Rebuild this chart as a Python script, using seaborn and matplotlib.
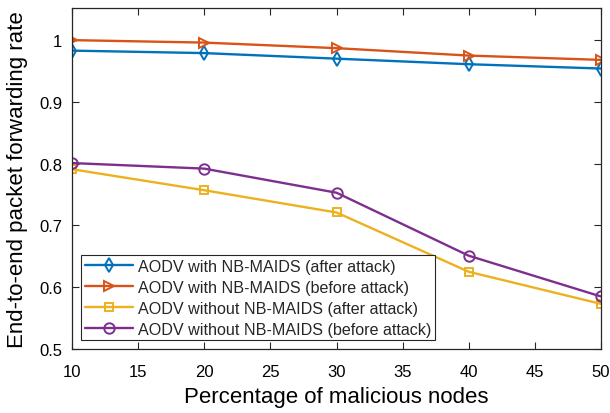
import matplotlib
matplotlib.use("Agg")
import matplotlib.pyplot as plt
import seaborn as sns
import pandas as pd

x_vals = [10, 20, 30, 40, 50]
with_after = [0.983, 0.979, 0.970, 0.961, 0.954]
with_before = [1.000, 0.996, 0.987, 0.975, 0.968]
without_after = [0.791, 0.757, 0.721, 0.625, 0.573]
without_before = [0.801, 0.792, 0.753, 0.651, 0.585]
labels = ["AODV with NB-MAIDS (after attack)",
          "AODV with NB-MAIDS (before attack)",
          "AODV without NB-MAIDS (after attack)",
          "AODV without NB-MAIDS (before attack)"]
colors = ["#0072BD", "#D95319", "#EDB120", "#7E2F8E"]
markers = ["d", ">", "s", "o"]
msizes = [7.5, 7.5, 5.5, 7.5]

sns.set_style("ticks")
plt.rcParams['font.family'] = ['Liberation Sans', 'DejaVu Sans']

fig = plt.figure(figsize=(6.1, 4.14), dpi=100)
ax = fig.add_axes([72/610, 1-350/414, 529/610, 341/414])

series = [with_after, with_before, without_after, without_before]
for ys, lab, c, m, ms in zip(series, labels, colors, markers, msizes):
    df = pd.DataFrame({"x": x_vals, "y": ys})
    sns.lineplot(data=df, x="x", y="y", ax=ax, color=c, marker=m, markersize=ms,
                 markerfacecolor="none", markeredgecolor=c, markeredgewidth=1.4,
                 linewidth=1.7, label=lab)

ax.set_xlim(10, 50)
ax.set_ylim(0.5, 1.052)
ax.set_xticks([10, 15, 20, 25, 30, 35, 40, 45, 50])
ax.set_yticks([0.5, 0.6, 0.7, 0.8, 0.9, 1.0])
ax.set_yticklabels(["0.5", "0.6", "0.7", "0.8", "0.9", "1"])
ax.tick_params(direction="in", top=True, right=True, length=5, width=0.8,
               labelsize=12, colors="#262626", labelcolor="black")
ax.tick_params(axis="x", pad=11)
ax.tick_params(axis="y", pad=7)
for s in ax.spines.values():
    s.set_color("#262626")
    s.set_linewidth(0.9)
ax.set_xlabel("Percentage of malicious nodes", fontsize=16, color="black", labelpad=5)
ax.set_ylabel("End-to-end packet forwarding rate", fontsize=16, color="black", labelpad=8)

leg = ax.legend(loc="lower left", bbox_to_anchor=(0.017, 0.026), borderaxespad=0,
                fontsize=11.6, frameon=True, fancybox=False, framealpha=1,
                edgecolor="#262626", handlelength=3.0, labelspacing=0.37,
                borderpad=0.22, handletextpad=0.3)
leg.get_frame().set_linewidth(0.8)

fig.savefig("out.png", dpi=100)
